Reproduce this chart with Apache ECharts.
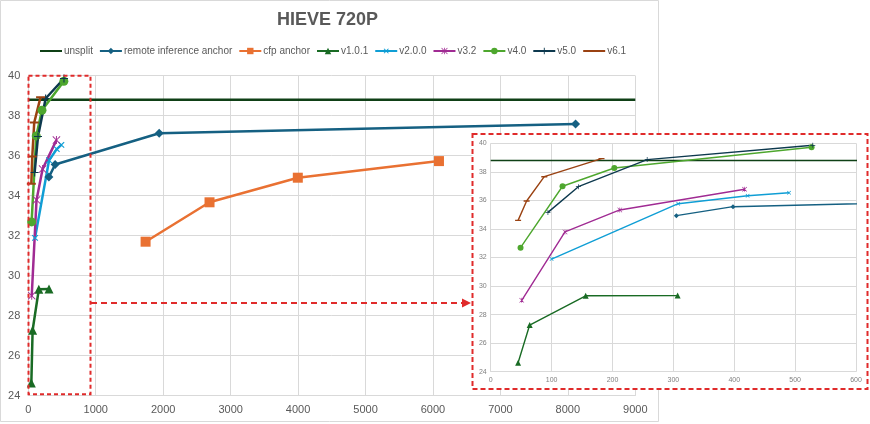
<!DOCTYPE html>
<html><head><meta charset="utf-8">
<script src="https://cdn.jsdelivr.net/npm/echarts@6/dist/echarts.min.js"></script>
<style>html,body{margin:0;padding:0;background:#fff}#c{width:870px;height:424px}</style>
</head><body><div id="c"></div>
<script>
// ---- data ----
const seriesNames = ['unsplit','remote inference anchor','cfp anchor','v1.0.1','v2.0.0','v3.2','v4.0','v5.0','v6.1'];
const unsplitX = [0, 9000];
const unsplitY = [38.8, 38.8];
const remoteX = [305, 398, 1941, 8114];
const remoteY = [34.93, 35.56, 37.12, 37.59];
const cfpX = [1739, 2687, 3996, 6089];
const cfpY = [31.7, 33.67, 34.9, 35.73];
const v101X = [45, 64, 156, 307];
const v101Y = [24.63, 27.27, 29.32, 29.33];
const v200X = [100, 308, 422, 490];
const v200Y = [31.89, 35.77, 36.33, 36.54];
const v32X = [51, 122, 212, 417];
const v32Y = [29.0, 33.79, 35.33, 36.78];
const v40X = [49, 118, 203, 527];
const v40Y = [32.69, 36.99, 38.27, 39.72];
const v50X = [94, 144, 257, 529];
const v50Y = [35.16, 36.96, 38.86, 39.86];
const v61X = [45, 59, 88, 182];
const v61Y = [34.6, 35.96, 37.66, 38.93];
const mainXTicks = [0, 1000, 2000, 3000, 4000, 5000, 6000, 7000, 8000, 9000];
const yTicks = [24, 26, 28, 30, 32, 34, 36, 38, 40];
const insetXTicks = [0, 100, 200, 300, 400, 500, 600];
const titleText = 'HIEVE 720P';

// ---- styles ----
const PLUS = 'path://M4.3,0H5.7V4.3H10V5.7H5.7V10H4.3V5.7H0V4.3H4.3Z';
const STAR = 'path://M4.4,0H5.6V10H4.4Z M0.8,0L5,4.2L9.2,0L10,0.8L5.8,5L10,9.2L9.2,10L5,5.8L0.8,10L0,9.2L4.2,5L0,0.8Z';
const DASH = 'path://M0,0h0.01v0.01h-0.01Z M0,9.99h0.01v0.01h-0.01Z M0,4H10V6.2H0Z';
const seriesXY = [[unsplitX,unsplitY],[remoteX,remoteY],[cfpX,cfpY],[v101X,v101Y],[v200X,v200Y],[v32X,v32Y],[v40X,v40Y],[v50X,v50Y],[v61X,v61Y]];
const styles = [
  {color:'#0F4016', symbol:DASH, size:8, isize:5, hide:true},
  {color:'#156082', symbol:'diamond', size:9, isize:5},
  {color:'#E97132', symbol:'rect', size:10, isize:5},
  {color:'#196B24', symbol:'triangle', size:9, isize:6},
  {color:'#0F9ED5', symbol:PLUS, size:8, isize:5, rot:45},
  {color:'#A02B93', symbol:STAR, size:8, isize:5},
  {color:'#4EA72E', symbol:'circle', size:9, isize:6},
  {color:'#0D394E', symbol:PLUS, size:8, isize:5},
  {color:'#9A4212', symbol:DASH, size:9, isize:6}
];

const series = [];
seriesNames.forEach((name, i) => {
  const [xs, ys] = seriesXY[i];
  const data = xs.map((x, k) => [x, ys[k]]);
  const st = styles[i];
  series.push({
    name, type:'line', xAxisIndex:0, yAxisIndex:0, data,
    symbol: st.symbol, symbolSize: st.size, symbolRotate: st.rot || 0,
    showSymbol: !st.hide,
    lineStyle:{color:st.color, width:2.5}, itemStyle:{color:st.color},
    emphasis:{disabled:true}, z: 2
  });
  series.push({
    name, type:'line', xAxisIndex:1, yAxisIndex:1, data,
    symbol: st.symbol, symbolSize: st.isize, symbolRotate: st.rot || 0,
    showSymbol: !st.hide,
    lineStyle:{color:st.color, width:1.4}, itemStyle:{color:st.color},
    emphasis:{disabled:true}, z: 12
  });
});

const grayLine = {lineStyle:{color:'#d9d9d9', width:1}};
const plain = v => String(v);
const chart = echarts.init(document.getElementById('c'));
chart.setOption({
  animation:false,
  backgroundColor:'#fff',
  title:{text:titleText, left:277, top:11, padding:0,
    textStyle:{fontSize:18, fontWeight:'bold', color:'#595959', fontFamily:'Liberation Sans, Arial, sans-serif'}},
  legend:{data:seriesNames, left:39, top:46, padding:0, itemWidth:22, itemHeight:8, itemGap:6,
    textStyle:{fontSize:10, color:'#595959', padding:[0,0,0,-3]}},
  grid:[
    {left:28.3, top:75.7, width:607, height:320},
    {left:490.7, top:143.3, width:365.3, height:228.4}
  ],
  xAxis:[
    {type:'value', gridIndex:0, min:mainXTicks[0], max:mainXTicks[mainXTicks.length-1], interval:1000,
     axisLine:{show:true, ...grayLine}, axisTick:{show:false}, splitLine:{show:true, ...grayLine},
     axisLabel:{fontSize:11, color:'#595959', margin:9, formatter:plain}, z:0},
    {type:'value', gridIndex:1, min:insetXTicks[0], max:insetXTicks[insetXTicks.length-1], interval:100,
     axisLine:{show:true, ...grayLine}, axisTick:{show:false}, splitLine:{show:true, ...grayLine},
     axisLabel:{fontSize:7, color:'#808080', margin:5, formatter:plain}, z:10}
  ],
  yAxis:[
    {type:'value', gridIndex:0, min:yTicks[0], max:yTicks[yTicks.length-1], interval:2,
     axisLine:{show:false}, axisTick:{show:false}, splitLine:{show:true, ...grayLine},
     axisLabel:{fontSize:11, color:'#595959', margin:8}, z:0},
    {type:'value', gridIndex:1, min:yTicks[0], max:yTicks[yTicks.length-1], interval:2,
     axisLine:{show:false}, axisTick:{show:false}, splitLine:{show:true, ...grayLine},
     axisLabel:{fontSize:7, color:'#808080', margin:4}, z:10}
  ],
  graphic:[
    {type:'rect', z:-1, shape:{x:0.5, y:0.5, width:658, height:421}, style:{fill:null, stroke:'#d9d9d9', lineWidth:1}},
    {type:'rect', z:3, shape:{x:28.5, y:75.7, width:62, height:318.5}, style:{fill:null, stroke:'#e02b2b', lineWidth:2, lineDash:[4,3]}},
    {type:'line', z:3, shape:{x1:91, y1:303, x2:463, y2:303}, style:{stroke:'#e02b2b', lineWidth:2, lineDash:[6,4]}},
    {type:'polygon', z:3, shape:{points:[[462,298.5],[471,303],[462,307.5]]}, style:{fill:'#e02b2b'}},
    {type:'rect', z:5, shape:{x:472.5, y:134, width:395, height:255}, style:{fill:'#fff', stroke:'#e02b2b', lineWidth:2, lineDash:[5,3]}}
  ],
  series
});
</script></body></html>
